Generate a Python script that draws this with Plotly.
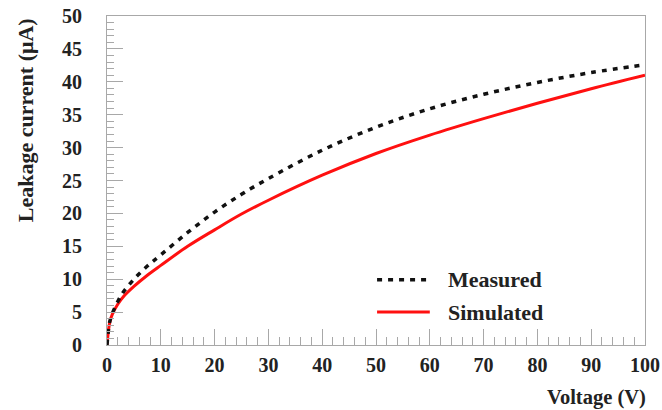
import plotly.graph_objects as go

# Bias voltage (V) and leakage current (uA)
voltage = [0, 0.5, 1, 2, 3, 5, 7.5, 10, 15, 20, 25, 30, 40, 50, 60, 70, 80, 90, 100]
measured = [0, 3.5, 4.8, 6.6, 8.0, 10.0, 12.0, 13.7, 17.1, 20.2, 22.9, 25.3, 29.6, 33.1, 35.9, 38.1, 39.9, 41.4, 42.6]
simulated = [0, 3.4, 4.7, 6.2, 7.3, 8.9, 10.6, 12.1, 15.0, 17.5, 19.9, 22.0, 25.8, 29.1, 31.9, 34.4, 36.75, 38.95, 41.0]

series_names = ["Measured", "Simulated"]
x_ticks = list(range(0, 101, 10))
y_ticks = list(range(0, 51, 5))

FONT = "Liberation Serif, Times New Roman, serif"
FRAME = "#a8a8a8"

fig = go.Figure()
fig.add_trace(go.Scatter(x=voltage, y=simulated, mode="lines", name=series_names[1],
                         line=dict(color="#ff1010", width=3, shape="spline", smoothing=1)))
fig.add_trace(go.Scatter(x=voltage, y=measured, mode="lines", name=series_names[0],
                         line=dict(color="#111111", width=3.5, dash="5px,6px", shape="spline", smoothing=1)))

axis_common = dict(showgrid=False, zeroline=False, showline=True, linecolor=FRAME, linewidth=1.2,
                   mirror=True, ticks="inside", tickcolor=FRAME, ticklen=16, tickwidth=1,
                   automargin=False,
                   tickfont=dict(family=FONT, size=20, color="#222222", weight="bold"))

fig.update_xaxes(range=[0, 100], tickvals=x_ticks, ticktext=[str(v) for v in x_ticks],
                 minor=dict(ticks="inside", dtick=2, ticklen=8, tickcolor=FRAME, tickwidth=1),
                 ticklabelstandoff=2, **axis_common)
fig.update_yaxes(range=[0, 50], tickvals=y_ticks, ticktext=[str(v) for v in y_ticks],
                 minor=dict(ticks="inside", dtick=1, ticklen=7, tickcolor=FRAME, tickwidth=1),
                 ticklabelstandoff=20, **axis_common)

legend_font = dict(family=FONT, size=22, color="#222222", weight="bold")

annotations = [
    dict(text="Voltage (V)", xref="paper", yref="paper", x=1.005, y=-0.16,
         xanchor="right", yanchor="middle", showarrow=False,
         font=dict(family=FONT, size=20.5, color="#222222", weight="bold")),
    dict(text="Leakage current (\u03bcA)", xref="paper", yref="paper", x=-0.152, y=1.0,
         xanchor="center", yanchor="top", textangle=-90, showarrow=False,
         font=dict(family=FONT, size=22, color="#222222", weight="bold")),
]

# Legend drawn inside the frame
legend_rows = [(series_names[0], 0.198, dict(color="#111111", width=3.5, dash="5px,6px")),
               (series_names[1], 0.10, dict(color="#ff1010", width=3))]
shapes = []
for name, ypos, ln in legend_rows:
    shapes.append(dict(type="line", xref="paper", yref="paper", x0=0.502, x1=0.6, y0=ypos, y1=ypos, line=ln))
    annotations.append(dict(text=name, xref="paper", yref="paper", x=0.63, y=ypos,
                            xanchor="left", yanchor="middle", showarrow=False, font=legend_font))

fig.update_layout(width=662, height=410, margin=dict(l=107, r=17, t=16, b=65),
                  paper_bgcolor="white", plot_bgcolor="white", showlegend=False,
                  annotations=annotations, shapes=shapes)

fig.write_html("out.html")
